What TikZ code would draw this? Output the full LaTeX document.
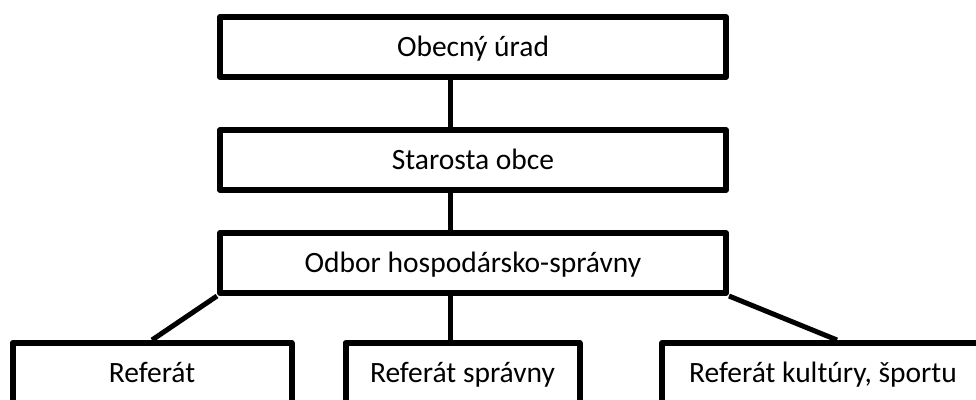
\documentclass[tikz,border=0pt]{standalone}
\usepackage{fontspec}
\setmainfont{Carlito}
\begin{document}
\begin{tikzpicture}[x=1pt,y=-1pt,
		box/.style={draw=black,line width=6pt,line join=round,rectangle,minimum height=60pt,inner sep=0pt,text height=24pt,text depth=6pt,font=\fontsize{29.5}{35}\selectfont},
		link/.style={draw=black,line width=5pt}]
			\useasboundingbox (0,0) rectangle (976,399);
			
			\node[box,minimum width=506pt] (urad) at (473,47) {Obecný úrad};
			\node[box,minimum width=506pt] (starosta) at (473,160) {Starosta obce};
			\node[box,minimum width=506pt] (odbor) at (473,263) {Odbor hospodársko-správny};
			
			\node[box,minimum width=279pt] (refa) at (152,373) {Referát};
			\node[box,minimum width=234pt] (refb) at (462.5,373) {Referát správny};
			\node[box,minimum width=322pt] (refc) at (823,373) {Referát kultúry, športu};
			
			\coordinate (spine) at (450.5,0);
			\draw[link] (urad.south -| spine) -- (starosta.north -| spine);
			\draw[link] (starosta.south -| spine) -- (odbor.north -| spine);
			\draw[link] (odbor.south -| spine) -- (refb.north -| spine);
			\draw[link] (odbor.south west) -- (refa.north);
			\draw[link] (odbor.south east) -- ([xshift=14pt]refc.north);
		\end{tikzpicture}
\end{document}
